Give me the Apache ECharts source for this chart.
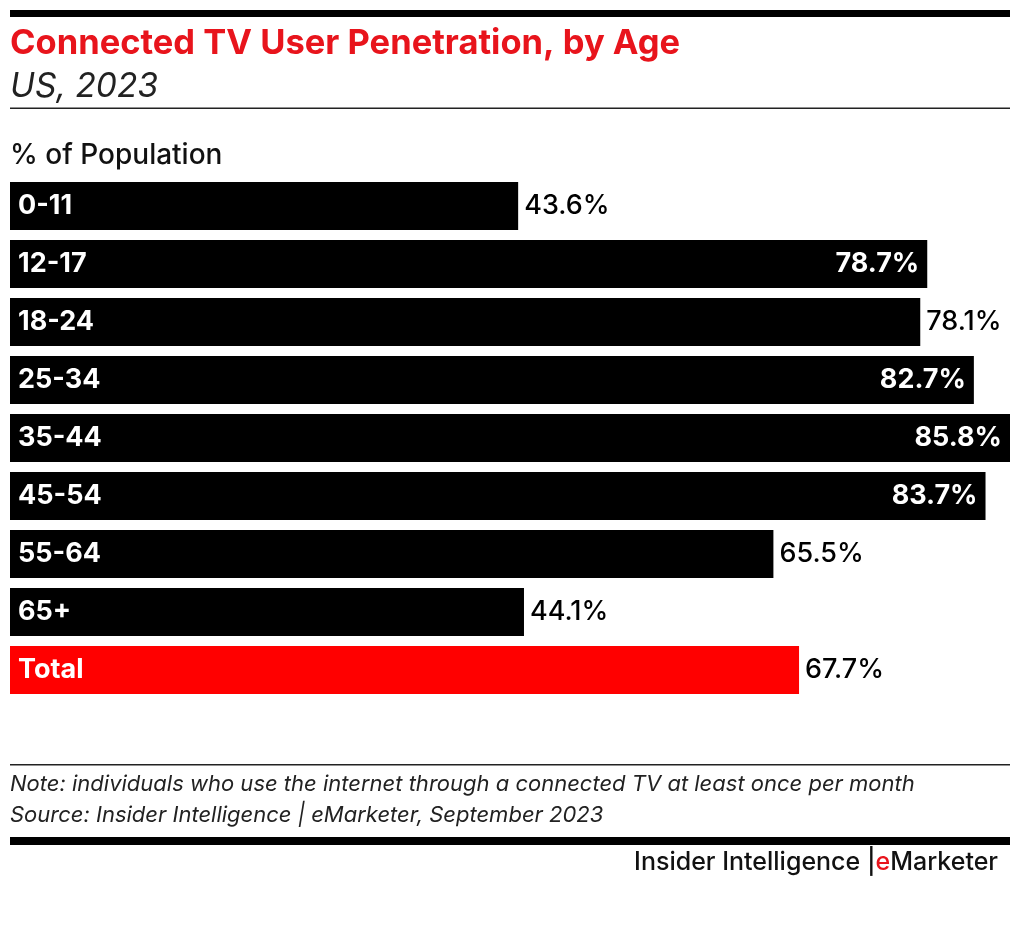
<!DOCTYPE html>
<html><head><meta charset="utf-8">
<script src="https://cdn.jsdelivr.net/npm/echarts@6/dist/echarts.min.js"></script>
<style>html,body{margin:0;padding:0;background:#fff}#c{width:1020px;height:936px}</style>
</head><body><div id="c"></div>
<script>
const categories = ['0-11','12-17','18-24','25-34','35-44','45-54','55-64','65+','Total'];
const values = [43.6, 78.7, 78.1, 82.7, 85.8, 83.7, 65.5, 44.1, 67.7];
const insideLabels = ['12-17','25-34','35-44','45-54'];
const highlight = 'Total';

const FONT = 'Inter, Roboto, sans-serif';
const chart = echarts.init(document.getElementById('c'));
const data = values.map((v, i) => {
  const inside = insideLabels.includes(categories[i]);
  return {
    value: v,
    itemStyle: { color: categories[i] === highlight ? '#ff0000' : '#000000' },
    label: {
      position: inside ? 'insideRight' : 'right',
      color: inside ? '#ffffff' : '#000000',
      fontWeight: inside ? 'bold' : 500,
      distance: inside ? 8 : 6
    }
  };
});
chart.setOption({
  animation: false,
  grid: { left: 10, right: 10, top: 177, height: 522, containLabel: false },
  xAxis: { type: 'value', min: 0, max: 85.8, show: false },
  yAxis: {
    type: 'category', data: categories, inverse: true, z: 10,
    axisLine: { show: false }, axisTick: { show: false },
    axisLabel: { inside: true, margin: 8, color: '#fff', fontFamily: FONT, fontWeight: 'bold', fontSize: 27, padding: [6, 0, 0, 0] }
  },
  series: [{
    type: 'bar', data: data, barCategoryGap: '17.2%',
    label: { show: true, fontFamily: FONT, fontSize: 27, padding: [6, 0, 0, 0], formatter: p => p.value.toFixed(1) + '%' }
  }],
  graphic: [
    { type: 'rect', shape: { x: 10, y: 10, width: 1000, height: 7 }, style: { fill: '#000' } },
    { type: 'text', left: 10, top: 26, style: { text: 'Connected TV User Penetration, by Age', fill: '#e8141c', font: 'bold 34.5px ' + FONT } },
    { type: 'text', left: 10, top: 70, style: { text: 'US, 2023', fill: '#222', font: 'italic 33.5px ' + FONT } },
    { type: 'rect', shape: { x: 10, y: 107.5, width: 1000, height: 1.5 }, style: { fill: '#222' } },
    { type: 'text', left: 10, top: 142, style: { text: '% of Population', fill: '#111', font: '500 28px ' + FONT } },
    { type: 'rect', shape: { x: 10, y: 764, width: 1000, height: 1.5 }, style: { fill: '#222' } },
    { type: 'text', left: 10, top: 773, style: { text: 'Note: individuals who use the internet through a connected TV at least once per month', fill: '#222', font: 'italic 22px ' + FONT } },
    { type: 'text', left: 10, top: 804, style: { text: 'Source: Insider Intelligence | eMarketer, September 2023', fill: '#222', font: 'italic 22px ' + FONT } },
    { type: 'rect', shape: { x: 10, y: 837, width: 1000, height: 8 }, style: { fill: '#000' } },
    { type: 'text', right: 22, top: 850, style: { rich: { a: { fill: '#111', font: '500 25px ' + FONT }, b: { fill: '#e8141c', font: '500 25px ' + FONT } }, text: '{a|Insider Intelligence |}{b|e}{a|Marketer}' } }
  ]
});
</script></body></html>
